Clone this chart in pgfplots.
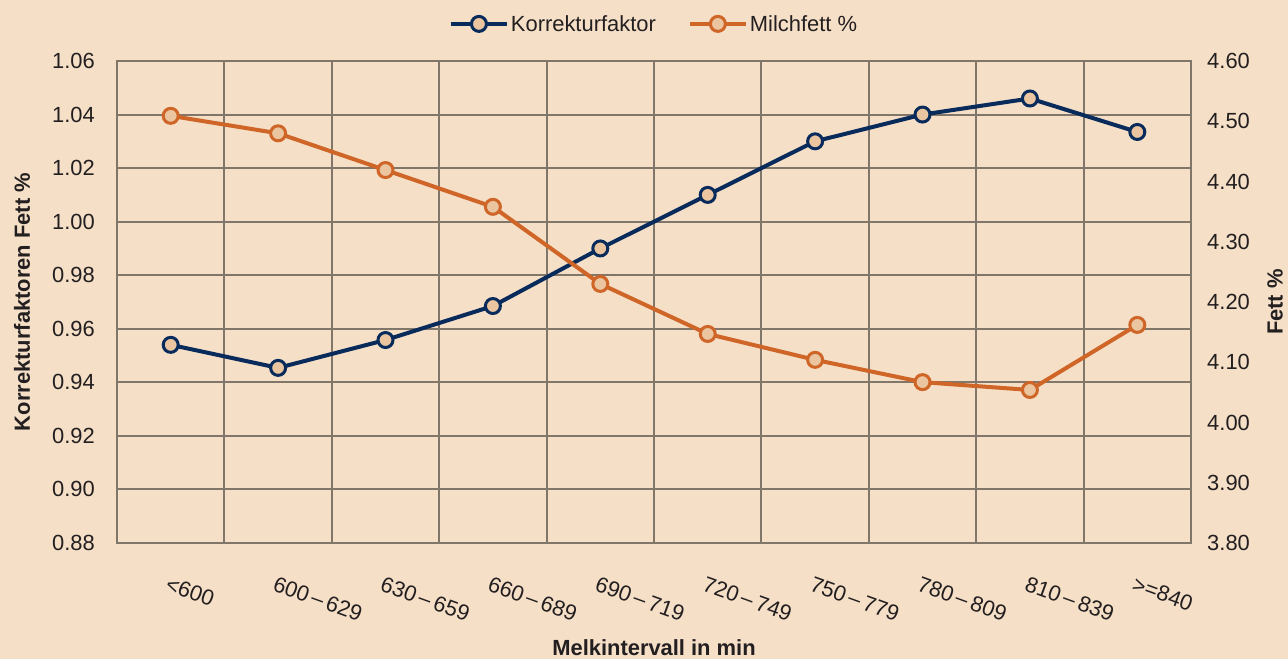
\documentclass[border=0pt]{standalone}
\usepackage{pgfplots}
\pgfplotsset{compat=1.18}
\usepackage{fontspec}
\setmainfont{Liberation Sans}
\definecolor{bg}{RGB}{245,223,199}
\definecolor{navy}{RGB}{8,43,92}
\definecolor{rust}{RGB}{207,101,39}
\definecolor{mfill}{RGB}{234,197,160}
\definecolor{gridc}{RGB}{128,118,106}
\definecolor{txt}{RGB}{35,31,32}
\begin{document}
\begin{tikzpicture}
\fill[bg] (0,0) rectangle (1288bp,659bp);
\pgfplotsset{
  common/.style={
    at={(117bp,116bp)}, anchor=south west,
    scale only axis, width=1074bp, height=482bp,
    xmin=-0.5, xmax=9.5,
    /pgf/number format/assume math mode=true,
    /pgf/number format/fixed, /pgf/number format/fixed zerofill, /pgf/number format/precision=2,
    ticklabel style={font=\fontsize{22}{26}\selectfont, text=txt},
    label style={font=\bfseries\fontsize{22}{26}\selectfont, text=txt},
    major tick length=0pt, minor tick length=0pt,
    axis line style={gridc, line width=2bp},
  }
}
\begin{axis}[common,
  ymin=0.88, ymax=1.06,
  ytick={0.88,0.90,0.92,0.94,0.96,0.98,1.00,1.02,1.04,1.06},
  y tick label style={inner sep=0pt, anchor=east, xshift=-22bp},
  xtick={0,...,9},
  xticklabels={<600, 600\,–\,629, 630\,–\,659, 660\,–\,689, 690\,–\,719, 720\,–\,749, 750\,–\,779, 780\,–\,809, 810\,–\,839, >=840},
  x tick label style={rotate=-20, anchor=north west, inner sep=0pt, yshift=-31bp, xshift=10bp},
  minor xtick={0.5,1.5,2.5,3.5,4.5,5.5,6.5,7.5,8.5},
  xminorgrids, ymajorgrids,
  minor grid style={gridc, line width=2bp},
  major grid style={gridc, line width=2bp},
  xlabel={Melkintervall in min},
  xlabel style={at={(axis description cs:0.5,-0.218)}, anchor=center},
  ylabel={Korrekturfaktoren Fett \%},
  ylabel style={at={(axis description cs:-0.0885,0.5)}, anchor=center, rotate=0},
  legend columns=2,
  legend style={at={(axis description cs:0.5,1.077)}, anchor=center, draw=none, fill=none,
    font=\fontsize{22}{26}\selectfont, text=txt,
    /tikz/every even column/.append style={column sep=30bp}},
  legend image code/.code={\draw[mark repeat=2, mark phase=2] plot coordinates {(0bp,0bp) (28bp,0bp) (56bp,0bp)};},
]
\addplot[navy, line width=4bp, mark=*, mark size=7.5bp, mark options={fill=mfill, line width=3bp}]
  coordinates {(0,0.954) (1,0.9454) (2,0.9558) (3,0.9685) (4,0.990) (5,1.010) (6,1.030) (7,1.040) (8,1.046) (9,1.0335)};
\addlegendentry{Korrekturfaktor}
\addlegendimage{rust, line width=4bp, mark=*, mark size=7.5bp, mark options={fill=mfill, line width=3bp}}
\addlegendentry{Milchfett \%}
\end{axis}
\begin{axis}[common,
  ymin=3.8, ymax=4.6,
  axis y line*=right, axis x line=none,
  ytick={3.8,3.9,4.0,4.1,4.2,4.3,4.4,4.5,4.6},
  y tick label style={inner sep=0pt, anchor=west, xshift=16bp},
  ylabel={Fett \%},
  ylabel style={at={(axis description cs:1.0782,0.5)}, anchor=center, rotate=0},
]
\addplot[rust, line width=4bp, mark=*, mark size=7.5bp, mark options={fill=mfill, line width=3bp}]
  coordinates {(0,4.509) (1,4.480) (2,4.419) (3,4.358) (4,4.230) (5,4.147) (6,4.104) (7,4.067) (8,4.054) (9,4.162)};
\end{axis}
\end{tikzpicture}
\end{document}
